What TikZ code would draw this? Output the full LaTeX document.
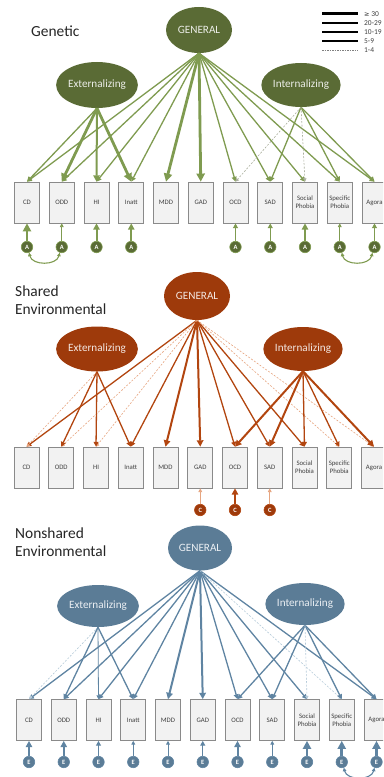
\documentclass[tikz,border=0pt]{standalone}
\usepackage{fontspec}
\setmainfont{Carlito}
\newfontfamily\symfont{DejaVu Sans}
\usetikzlibrary{shapes.geometric,arrows.meta}
\definecolor{gfill}{HTML}{5A6B35}
\definecolor{gline}{HTML}{7F9B50}
\definecolor{gdash}{HTML}{A9AE9C}
\definecolor{sfill}{HTML}{9E3A0B}
\definecolor{sline}{HTML}{B2450F}
\definecolor{sdash}{HTML}{E6A580}
\definecolor{nfill}{HTML}{5B7C96}
\definecolor{nline}{HTML}{5F84A2}
\definecolor{ndash}{HTML}{B5CAD9}
\definecolor{boxfill}{HTML}{F2F2F2}
\definecolor{boxline}{HTML}{8A8A8A}
\definecolor{boxtext}{HTML}{404040}
\newcommand\mkboxes[3]{%
  \foreach \t [count=\k] in {CD,ODD,HI,Inatt,MDD,GAD,OCD,SAD,{Social\\Phobia},{Specific\\Phobia},Agora}
    \node[box] (#1\k) at ({#2+34.75*(\k-1)},#3) {\t};
}
\begin{document}
\begin{tikzpicture}[x=1bp,y=-1bp,
  box/.style={draw=boxline,fill=boxfill,line width=0.6bp,minimum width=25bp,minimum height=41bp,inner sep=0pt,font=\fontsize{6.8}{8}\selectfont,text=boxtext,align=center},
  lat/.style={ellipse,inner sep=0pt,font=\fontsize{11.2}{12}\selectfont},
  err/.style={circle,minimum size=11.5bp,inner sep=0pt,line width=0.6bp,font=\fontsize{6.5}{6.5}\selectfont\bfseries,text=white},
  ttl/.style={font=\fontsize{15.5}{18.5}\selectfont,anchor=west,align=left,text=black!85,inner sep=0pt},
  leg/.style={font=\fontsize{7.5}{8}\selectfont,anchor=west,inner sep=0pt,text=black!75},
  tip/.style={-{Triangle[length=2bp 2.2,width=2bp 2.2]}},
  w1/.style={tip,line width=0.8bp},
  w2/.style={tip,line width=1.3bp},
  w3/.style={tip,line width=2bp},
  w4/.style={tip,line width=2.8bp},
  dsh/.style={tip,line width=0.6bp,dash pattern=on 2bp off 1.5bp},
  dbl/.style={{Triangle[length=3.5bp,width=3.5bp]}-{Triangle[length=3.5bp,width=3.5bp]},line width=1.1bp},
]
\useasboundingbox (0,0) rectangle (383,777);
\clip (0,0) rectangle (383,777);

% legend
\draw[line width=3bp] (322,14) -- (358,14);
\draw[line width=2.3bp] (322,23) -- (358,23);
\draw[line width=1.7bp] (322,32) -- (358,32);
\draw[line width=1.1bp] (322,41) -- (358,41);
\draw[line width=0.6bp,gray,dash pattern=on 1.5bp off 1bp] (322,50) -- (358,50);
\node[leg] (l1) at (364,14) {{\symfont\fontsize{6.5}{7}\selectfont ≥} 30};
\node[leg] (l2) at (364,23) {20-29};
\node[leg] (l3) at (364,32) {10-19};
\node[leg] (l4) at (364,41) {5-9};
\node[leg] (l5) at (364,50) {1-4};

% ================= Genetic =================
\node[ttl] (tg) at (31,31) {Genetic};
\node[lat,fill=gfill,text=white!88!gfill,minimum width=66bp,minimum height=46bp] (gG) at (199,30) {GENERAL};
\node[lat,fill=gfill,text=white!88!gfill,minimum width=68bp,minimum height=46bp] (gE) at (97,85) {Externalizing};
\node[lat,fill=gfill,text=white!88!gfill,minimum width=64bp,minimum height=44bp] (gI) at (301,85) {Internalizing};
\mkboxes{g}{27}{202.5}
\foreach \k/\s in {1/w2,2/w2,3/w2,4/w2,5/w4,6/w4,7/w2,8/w2,9/w2,10/w2,11/w2}
  \draw[\s,gline] (gG.south) -- (g\k.north);
\foreach \k/\s in {1/w2,2/w4,3/w3,4/w4}
  \draw[\s,gline] (gE.south) -- (g\k.north);
\foreach \k/\s in {8/w2,10/w2,11/w2}
  \draw[\s,gline] (gI.south) -- (g\k.north);
\foreach \k in {7,9}
  \draw[dsh,gdash] (gI.south) -- (g\k.north);
\foreach \k/\s in {1/w4,2/w1,3/w3,4/w3,7/w2,8/w2,9/w3,10/w1,11/w2}{
  \node[err,fill=gfill,draw=gline] (ga\k) at ({27+34.75*(\k-1)},247) {A};
  \draw[\s,gline] (ga\k.north) -- (g\k.south);
}
\draw[dbl,gline] (ga1.-70) .. controls +(3,13) and +(-3,13) .. (ga2.-110);
\draw[dbl,gline] (ga10.-70) .. controls +(3,13) and +(-3,13) .. (ga11.-110);

% ================= Shared environmental =================
\node[ttl] (ts) at (15,300) {Shared\\Environmental};
\node[lat,fill=sfill,text=white!88!sfill,minimum width=66bp,minimum height=48bp] (sG) at (197,296) {GENERAL};
\node[lat,fill=sfill,text=white!88!sfill,minimum width=67bp,minimum height=45bp] (sE) at (97,349) {Externalizing};
\node[lat,fill=sfill,text=white!88!sfill,minimum width=66bp,minimum height=44bp] (sI) at (303,349) {Internalizing};
\mkboxes{s}{26.5}{467.5}
\foreach \k/\s in {1/w2,4/w2,5/w3,6/w3,7/w2,8/w2,9/w2}
  \draw[\s,sline] (sG.south) -- (s\k.north);
\foreach \k in {2,3,10,11}
  \draw[dsh,sdash] (sG.south) -- (s\k.north);
\draw[dsh,sdash] (sE.south) -- (s1.north);
\foreach \k/\s in {2/w2,3/w2,4/w2}
  \draw[\s,sline] (sE.south) -- (s\k.north);
\foreach \k/\s in {7/w3,8/w3,9/w2,10/w2,11/w3}
  \draw[\s,sline] (sI.south) -- (s\k.north);
\foreach \k/\s/\c in {6/w1/sdash,7/w3/sline,8/w1/sdash}{
  \node[err,fill=sfill,draw=sline] (sc\k) at ({26.5+34.75*(\k-1)},510) {C};
  \draw[\s,\c] (sc\k.north) -- (s\k.south);
}

% ================= Nonshared environmental =================
\node[ttl] (tn) at (15,542) {Nonshared\\Environmental};
\node[lat,fill=nfill,text=white!88!nfill,minimum width=64bp,minimum height=45bp] (nG) at (200,548) {GENERAL};
\node[lat,fill=nfill,text=white!88!nfill,minimum width=67bp,minimum height=42bp] (nE) at (98,606) {Externalizing};
\node[lat,fill=nfill,text=white!88!nfill,minimum width=64bp,minimum height=42bp] (nI) at (305,604) {Internalizing};
\mkboxes{n}{29}{720}
\foreach \k/\s in {1/w2,2/w2,3/w2,4/w2,5/w3,6/w3,7/w2,8/w2,9/w2,11/w2}
  \draw[\s,nline] (nG.south) -- (n\k.north);
\draw[dsh,ndash] (nG.south) -- (n10.north);
\draw[dsh,ndash] (nE.south) -- (n1.north);
\foreach \k/\s in {2/w2,3/w1,4/w2}
  \draw[\s,nline] (nE.south) -- (n\k.north);
\foreach \k/\s in {7/w2,8/w2,10/w2,11/w2}
  \draw[\s,nline] (nI.south) -- (n\k.north);
\draw[dsh,ndash] (nI.south) -- (n9.north);
\foreach \k/\s in {1/w3,2/w3,3/w2,4/w1,5/w1,6/w2,7/w3,8/w1,9/w4,10/w4,11/w4}{
  \node[err,fill=nfill,draw=nline] (ne\k) at ({29+34.75*(\k-1)},762) {E};
  \draw[\s,nline] (ne\k.north) -- (n\k.south);
}
\draw[dbl,nline] (ne10.-70) .. controls +(3,13) and +(-3,13) .. (ne11.-110);
\end{tikzpicture}
\end{document}
